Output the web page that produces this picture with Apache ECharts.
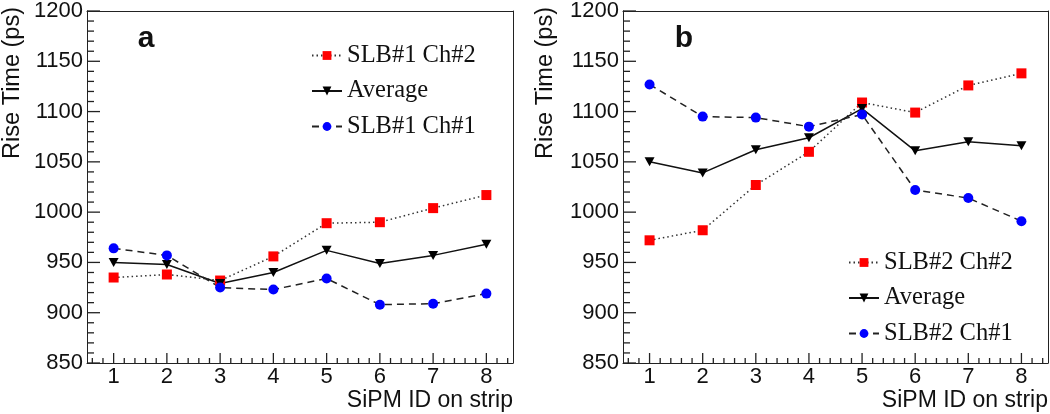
<!DOCTYPE html>
<html><head><meta charset="utf-8">
<script src="https://cdn.jsdelivr.net/npm/echarts@6/dist/echarts.min.js"></script>
<style>html,body{margin:0;padding:0;background:#ffffff}#c{width:1050px;height:414px;background:#ffffff}</style>
</head><body><div id="c"></div>
<script>
// ---- data ----
const sipmIds = [1, 2, 3, 4, 5, 6, 7, 8];
const xTickLabels = [1, 2, 3, 4, 5, 6, 7, 8];
const aNames = ['SLB#1 Ch#2', 'Average', 'SLB#1 Ch#1'];
const aCh2 = [935, 938, 932, 956, 989, 990, 1004, 1017];
const aAvg = [950, 948, 929, 940, 962, 949, 957, 968];
const aCh1 = [964, 957, 925, 923, 934, 908, 909, 919];
const bNames = ['SLB#2 Ch#2', 'Average', 'SLB#2 Ch#1'];
const bCh2 = [972, 982, 1027, 1060, 1109, 1099, 1126, 1138];
const bAvg = [1050, 1039, 1062, 1074, 1103, 1061, 1070, 1066];
const bCh1 = [1127, 1095, 1094, 1085, 1097, 1022, 1014, 991];
const yTickLabels = [850, 900, 950, 1000, 1050, 1100, 1150, 1200];
const yMin = 850, yMax = 1200, yStep = 50;
const xMin = 0.5, xMax = 8.5;

// tick positions
const xMajorTicks = sipmIds.slice();
const xMinorTicks = [];
for (let i = 3; i <= 42; i++) { const v = Math.round(i * 20) / 100; if (!Number.isInteger(v)) xMinorTicks.push(v); }
const yMajorTicks = yTickLabels.slice();
const yMinorTicks = [];
for (let v = yMin; v <= yMax; v += 10) { if (v % 50 !== 0) yMinorTicks.push(v); }

const SANS = 'Liberation Sans, Arial, sans-serif';
const SERIF = 'Liberation Serif, Times New Roman, serif';
const AX = '#222';

const grids = [
  { left: 87, top: 9, width: 426, height: 354, show: false },
  { left: 623, top: 9, width: 425, height: 354, show: false }
];

function xAx(g) {
  return { type: 'value', gridIndex: g, min: xMin, max: xMax, position: 'bottom',
    axisLine: { show: true, lineStyle: { color: AX, width: 1 } },
    axisTick: { show: false },
    axisLabel: { show: true, customValues: xTickLabels, margin: 3, color: '#111', fontSize: 22, fontFamily: SANS },
    splitLine: { show: false } };
}
function xTop(g) {
  return { type: 'value', gridIndex: g, min: xMin, max: xMax, position: 'top',
    axisLine: { show: true, lineStyle: { color: AX, width: 1 } },
    axisTick: { show: false }, axisLabel: { show: false }, splitLine: { show: false } };
}
function yAx(g) {
  return { type: 'value', gridIndex: g, min: yMin, max: yMax, interval: yStep, position: 'left',
    axisLine: { show: true, lineStyle: { color: AX, width: 1 } },
    axisTick: { show: false }, minorTick: { show: false },
    axisLabel: { customValues: yTickLabels, margin: 4, color: '#111', fontSize: 22, fontFamily: SANS, formatter: v => String(v) },
    splitLine: { show: false } };
}
function yRight(g) {
  return { type: 'value', gridIndex: g, min: yMin, max: yMax, interval: yStep, position: 'right',
    axisLine: { show: true, lineStyle: { color: AX, width: 1 } },
    axisTick: { show: false }, axisLabel: { show: false }, splitLine: { show: false } };
}

// tick marks drawn as thin rectangular symbols placed by the axis scales
function tickScatter(g, vals, isY, len) {
  return { type: 'scatter', xAxisIndex: g * 2, yAxisIndex: g * 2, silent: true, clip: false, z: 5,
    animation: false, symbol: 'rect',
    symbolSize: isY ? [len, 1.3] : [1.3, len],
    symbolOffset: isY ? [len / 2, 0] : [0, -len / 2],
    itemStyle: { color: AX, opacity: 1 },
    emphasis: { disabled: true },
    data: vals.map(v => isY ? [xMin, v] : [v, yMin]) };
}

const redLine = { color: '#333', width: 1.5, type: [1.5, 3] };
const blueLine = { color: '#222', width: 1.5, type: [7, 5] };
const avgLine = { color: '#111', width: 1.5, type: 'solid' };
const triDown = 'path://M0,0 L10,0 L5,9 Z';

function mk(name, vals, g, kind) {
  const s = { type: 'line', name: name, xAxisIndex: g * 2, yAxisIndex: g * 2, z: 3,
    data: sipmIds.map((id, i) => [id, vals[i]]), animation: false };
  if (kind === 'red') { s.symbol = 'rect'; s.symbolSize = 10; s.itemStyle = { color: '#ff0000' }; s.lineStyle = redLine; }
  if (kind === 'avg') { s.symbol = triDown; s.symbolSize = [10, 9]; s.itemStyle = { color: '#000' }; s.lineStyle = avgLine; }
  if (kind === 'blue') { s.symbol = 'circle'; s.symbolSize = 10; s.itemStyle = { color: '#0000ff' }; s.lineStyle = blueLine; }
  return s;
}

const series = [];
[0, 1].forEach(g => {
  series.push(tickScatter(g, yMajorTicks, true, 13));
  series.push(tickScatter(g, yMinorTicks, true, 7));
  series.push(tickScatter(g, xMajorTicks, false, 10));
  series.push(tickScatter(g, xMinorTicks, false, 5));
});
series.push(
  mk(aNames[0], aCh2, 0, 'red'), mk(aNames[1], aAvg, 0, 'avg'), mk(aNames[2], aCh1, 0, 'blue'),
  mk(bNames[0], bCh2, 1, 'red'), mk(bNames[1], bAvg, 1, 'avg'), mk(bNames[2], bCh1, 1, 'blue')
);

const legendBase = { orient: 'vertical', itemWidth: 30, itemHeight: 11, itemGap: 10.5, padding: 0,
  selectedMode: false, textStyle: { fontFamily: SERIF, fontSize: 24.5, color: '#111' } };

const option = {
  animation: false,
  grid: grids,
  xAxis: [xAx(0), xTop(0), xAx(1), xTop(1)],
  yAxis: [yAx(0), yRight(0), yAx(1), yRight(1)],
  legend: [
    Object.assign({}, legendBase, { left: 311, top: 43, data: aNames }),
    Object.assign({}, legendBase, { left: 848, top: 250, data: bNames })
  ],
  series: series,
  graphic: [
    { type: 'text', x: 146, y: 39, style: { text: 'a', font: 'bold 30px ' + SANS, fill: '#111', textAlign: 'center', textVerticalAlign: 'middle' } },
    { type: 'text', x: 684, y: 39, style: { text: 'b', font: 'bold 30px ' + SANS, fill: '#111', textAlign: 'center', textVerticalAlign: 'middle' } },
    { type: 'text', x: 13, y: 7, rotation: Math.PI / 2, style: { text: 'Rise Time (ps)', font: '23.5px ' + SANS, fill: '#111', textAlign: 'right', textVerticalAlign: 'middle' } },
    { type: 'text', x: 546, y: 7, rotation: Math.PI / 2, style: { text: 'Rise Time (ps)', font: '23.5px ' + SANS, fill: '#111', textAlign: 'right', textVerticalAlign: 'middle' } },
    { type: 'text', x: 513, y: 401, style: { text: 'SiPM ID on strip', font: '23px ' + SANS, fill: '#111', textAlign: 'right', textVerticalAlign: 'middle' } },
    { type: 'text', x: 1048, y: 401, style: { text: 'SiPM ID on strip', font: '23px ' + SANS, fill: '#111', textAlign: 'right', textVerticalAlign: 'middle' } }
  ]
};

const chart = echarts.init(document.getElementById('c'), null, { renderer: 'canvas' });
chart.setOption(option);
</script>
</body></html>
